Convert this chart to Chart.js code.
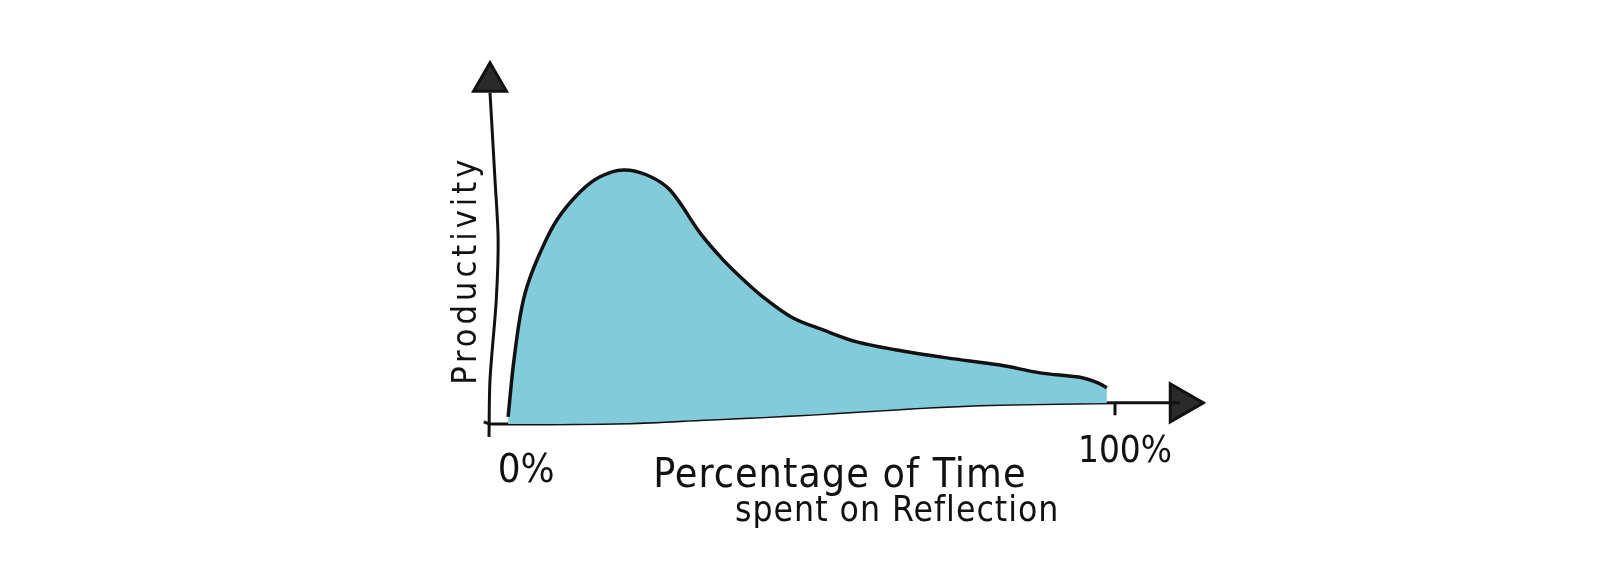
<!DOCTYPE html>
<html>
<head>
<meta charset="utf-8">
<script src="https://cdn.jsdelivr.net/npm/chart.js"></script>
<style>
  body { margin: 0; background: #fff; }
  #wrap { width: 1610px; height: 588px; }
</style>
</head>
<body>
<div id="wrap"><canvas id="chart"></canvas></div>
<script>
// productivity curve, x = % of time spent on reflection
const curveX = [2.9, 3.7, 4.8, 5.9, 8.0, 10.7, 14.4, 17.6, 21.3, 25.1, 28.8, 33.6, 37.3, 41.1, 44.3, 48.5, 53.3, 58.7, 65.1, 73.1, 81.6, 88.0, 94.9, 97.6, 98.7];
const curveY = [2.4, 22.0, 41.7, 53.5, 66.9, 79.9, 90.9, 96.9, 99.6, 97.6, 91.7, 74.8, 64.2, 55.1, 48.4, 41.3, 36.6, 31.9, 28.7, 25.6, 22.8, 19.7, 17.7, 15.4, 13.8];

// hand drawn axes
const xAxisX = [-1.0, 0, 22.4, 33.6, 49.6, 65.6, 80.0, 100.3, 110.4];
const xAxisY = [0.4, -0.4, 0, 1.2, 3.1, 5.5, 7.1, 7.9, 7.9];
const yAxisX = [-0.16, 0, 1.0, 1.3, 0.8, 0];
const yAxisY = [-5.5, 16.9, 48.4, 72.4, 95.7, 130];
const tickX = [100, 100];
const tickY = [7.9, 3.0];

const tickLabels = ['0%', '100%'];
const tickValues = [0, 100];
const xTitle = ['Percentage of Time', 'spent on Reflection'];
const yTitle = 'Productivity';

const pts = (xs, ys) => xs.map((x, i) => ({x: x, y: ys[i]}));

const FONT = '"Liberation Sans Narrow", "DejaVu Sans Condensed", sans-serif';

// draw text scaled so it spans the given width
function fitText(ctx, text, x, y, width, spacing) {
    if ('letterSpacing' in ctx) ctx.letterSpacing = (spacing || 0) + 'px';
    ctx.font = '40px ' + FONT;
    const size = 40 * width / ctx.measureText(text).width;
    ctx.font = size.toFixed(1) + 'px ' + FONT;
    ctx.fillText(text, x, y);
}

const sketchLabels = {
    id: 'sketchLabels',
    afterDraw(chart) {
        const ctx = chart.ctx;
        const xs = chart.scales.x, ys = chart.scales.y;
        ctx.save();
        ctx.fillStyle = '#111';
        ctx.textBaseline = 'alphabetic';

        ctx.textAlign = 'center';
        fitText(ctx, tickLabels[0], xs.getPixelForValue(tickValues[0] + 5.8), ys.getPixelForValue(-23.2), 57);
        fitText(ctx, tickLabels[1], xs.getPixelForValue(tickValues[1] + 1.6), ys.getPixelForValue(-15.4), 94);

        ctx.textAlign = 'left';
        fitText(ctx, xTitle[0], xs.getPixelForValue(26.1), ys.getPixelForValue(-25.2), 374, 1);
        fitText(ctx, xTitle[1], xs.getPixelForValue(39.2), ys.getPixelForValue(-38.6), 322, 1);

        ctx.translate(xs.getPixelForValue(-2.24), ys.getPixelForValue(15.0));
        ctx.rotate(-Math.PI / 2);
        fitText(ctx, yTitle, 0, 0, 222, 4);
        ctx.restore();
    }
};

new Chart(document.getElementById('chart'), {
    type: 'scatter',
    data: {
        datasets: [
            {
                label: 'Productivity',
                data: pts(curveX, curveY),
                showLine: true,
                tension: 0.35,
                borderColor: '#111',
                borderWidth: 3.5,
                backgroundColor: '#82cbda',
                fill: '+1',
                pointRadius: 0
            },
            {
                label: 'x axis',
                data: pts(xAxisX, xAxisY),
                showLine: true,
                tension: 0.3,
                borderColor: '#111',
                borderWidth: 3,
                pointRadius: 0
            },
            {
                label: 'y axis',
                data: pts(yAxisX, yAxisY),
                showLine: true,
                tension: 0.3,
                borderColor: '#111',
                borderWidth: 3,
                pointRadius: 0
            },
            {
                label: '100% tick',
                data: pts(tickX, tickY),
                showLine: true,
                borderColor: '#111',
                borderWidth: 3,
                pointRadius: 0
            },
            {
                label: 'arrows',
                data: [{x: 0, y: 134.3}, {x: 110.6, y: 7.9}],
                pointStyle: 'triangle',
                pointRadius: [19, 22],
                rotation: [0, 90],
                backgroundColor: '#2a2a2a',
                borderColor: '#111',
                borderWidth: 3
            }
        ]
    },
    options: {
        responsive: true,
        maintainAspectRatio: false,
        animation: false,
        layout: { padding: 0, autoPadding: false },
        scales: {
            x: { type: 'linear', min: -78.4, max: 179.2, display: false },
            y: { type: 'linear', min: -65, max: 166.5, display: false }
        },
        plugins: {
            legend: { display: false },
            tooltip: { enabled: false }
        }
    },
    plugins: [sketchLabels]
});
</script>
</body>
</html>
